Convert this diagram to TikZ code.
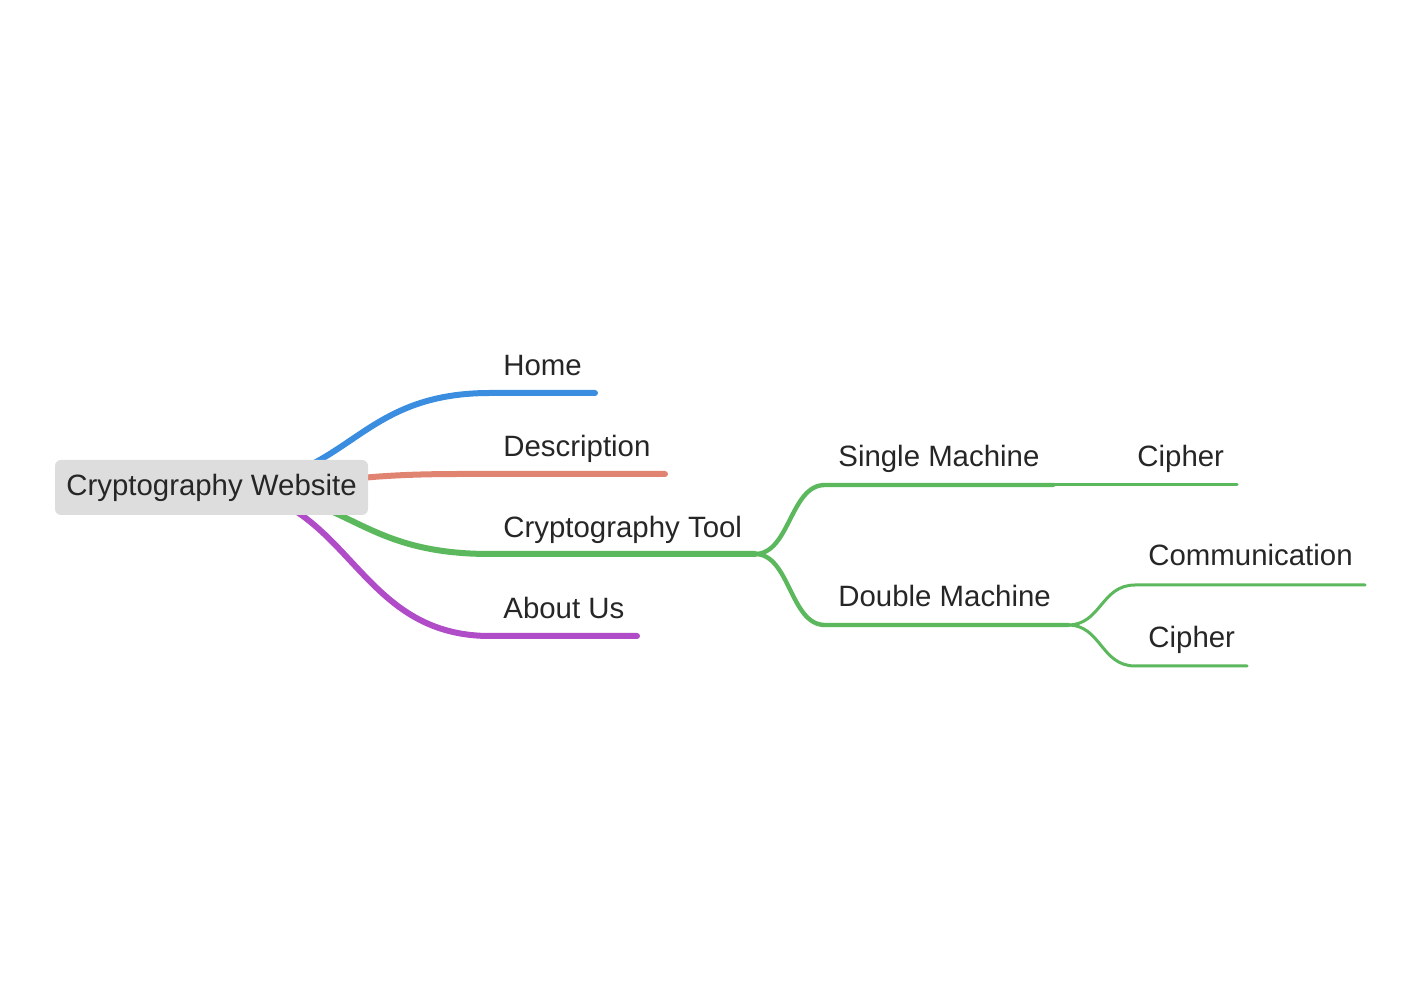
\documentclass[tikz,border=0pt]{standalone}
\usepackage{fontspec}
\setmainfont{Liberation Sans}
\usetikzlibrary{positioning}
\definecolor{homeblue}{HTML}{3B8DE0}
\definecolor{descsalmon}{HTML}{E08371}
\definecolor{toolgreen}{HTML}{5CB85C}
\definecolor{aboutpurple}{HTML}{B04CC8}
\definecolor{rootgray}{HTML}{DDDDDD}
\definecolor{inkgray}{HTML}{262626}

\begin{document}
\begin{tikzpicture}[x=0.5pt, y=-0.5pt,
  line cap=round,
  lbl/.style={anchor=base west, inner sep=0pt, text=inkgray,
    font=\fontsize{14.7}{17}\selectfont},
  rootbox/.style={fill=rootgray, rounded corners=3pt, minimum width=156.5pt,
    minimum height=27.5pt, inner sep=0pt, text=inkgray,
    font=\fontsize{14.7}{17}\selectfont},
  lvlone/.style={line width=3pt},
  lvltwo/.style={line width=2.2pt, toolgreen},
  lvlthree/.style={line width=1.5pt, toolgreen}]
\useasboundingbox (0,0) rectangle (1420,1004);

\coordinate (hub) at (212,487);

% first level
\coordinate (home-a) at (490,393);   \coordinate (home-b) at (595,393);
\coordinate (desc-a) at (460,474);   \coordinate (desc-b) at (665,474);
\coordinate (tool-a) at (490,554);   \coordinate (tool-b) at (755,554);
\coordinate (about-a) at (490,636);  \coordinate (about-b) at (637,636);

\draw[lvlone, homeblue] (hub) .. controls (351,487) and (351,393) .. (home-a) -- (home-b);
\draw[lvlone, descsalmon] (hub) .. controls (336,487) and (336,474) .. (desc-a) -- (desc-b);
\draw[lvlone, toolgreen] (hub) .. controls (351,487) and (351,554) .. (tool-a) -- (tool-b);
\draw[lvlone, aboutpurple] (hub) .. controls (351,487) and (351,636) .. (about-a) -- (about-b);

\node[rootbox] (root) at (211.5,487.5) {Cryptography Website};

\node[lbl] (home) at (503,376) {Home};
\node[lbl] (desc) at (503,457) {Description};
\node[lbl] (tool) at (503,538) {Cryptography Tool};
\node[lbl] (about) at (503,619) {About Us};

% second level
\coordinate (single-a) at (825,485);  \coordinate (single-b) at (1053,485);
\coordinate (double-a) at (825,625);  \coordinate (double-b) at (1068,625);

\draw[lvltwo] (tool-b) .. controls (790,554) and (790,485) .. (single-a) -- (single-b);
\draw[lvltwo] (tool-b) .. controls (790,554) and (790,625) .. (double-a) -- (double-b);

\node[lbl] (single) at (838,467) {Single Machine};
\node[lbl] (double) at (838,607) {Double Machine};

% third level
\coordinate (cipherA-b) at (1237,485);
\coordinate (comm-a) at (1135,585);   \coordinate (comm-b) at (1365,585);
\coordinate (cipherB-a) at (1135,666); \coordinate (cipherB-b) at (1247,666);

\draw[lvlthree] (single-b) -- (cipherA-b);
\draw[lvlthree] (double-b) .. controls (1101,625) and (1101,585) .. (comm-a) -- (comm-b);
\draw[lvlthree] (double-b) .. controls (1101,625) and (1101,666) .. (cipherB-a) -- (cipherB-b);

\node[lbl] (cipherA) at (1137,467) {Cipher};
\node[lbl] (comm) at (1148,566) {Communication};
\node[lbl] (cipherB) at (1148,648) {Cipher};
\end{tikzpicture}
\end{document}
